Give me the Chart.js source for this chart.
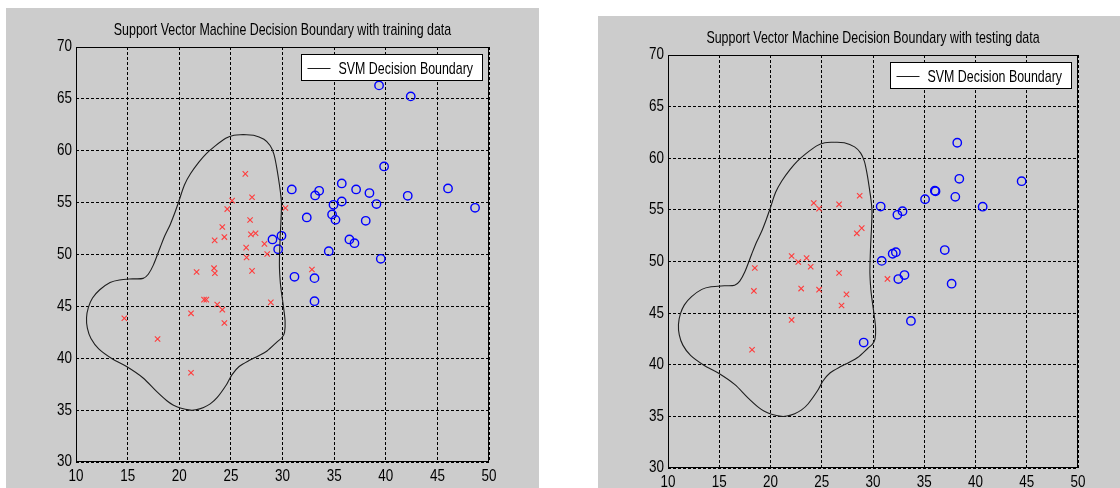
<!DOCTYPE html>
<html>
<head>
<meta charset="utf-8">
<title>SVM Decision Boundary</title>
<script src="https://cdn.jsdelivr.net/npm/chart.js@4/dist/chart.umd.min.js"></script>
<style>
  html, body { margin: 0; padding: 0; background: #ffffff; width: 1120px; height: 488px; overflow: hidden; }
  .panel { position: absolute; background: #cccccc; }
  #p1 { left: 6px; top: 8px; width: 533px; height: 480px; }
  #p2 { left: 598px; top: 16px; width: 522px; height: 472px; }
  canvas { display: block; }
</style>
</head>
<body>
<div class="panel" id="p1"><canvas id="c1" width="533" height="480"></canvas></div>
<div class="panel" id="p2"><canvas id="c2" width="522" height="472"></canvas></div>
<script>
// ---- data ----
const titles = [
  'Support Vector Machine Decision Boundary with training data',
  'Support Vector Machine Decision Boundary with testing data'
];
const legendLabel = 'SVM Decision Boundary';

// axis ranges / tick spacing
const xRange = [10, 50];
const yRange = [30, 70];
const tickStep = 5;

// closed decision contour (x, y)
const boundaryX = [26.2, 27.2, 28.2, 28.8, 29.16, 29.4, 29.6, 29.8, 29.9, 29.85, 29.77, 29.7, 29.75, 29.84, 30.1, 30.25, 30.2, 29.95, 29.5, 28.5, 27.6, 26.9, 25.8, 25.1, 24.6, 23.66, 23.0, 22.36, 21.6, 21.07, 20.1, 19.4, 18.8, 17.8, 16.5, 14.9, 13.5, 12.2, 11.45, 11.1, 11.02, 11.2, 11.6, 12.3, 13.3, 14.2, 15.5, 16.5, 17.0, 17.5, 18.16, 18.6, 19.13, 19.6, 19.94, 20.5, 21.1, 21.9, 22.6, 23.4, 24.5, 25.3, 26.2];
const boundaryY = [61.55, 61.5, 61.1, 60.5, 59.7, 58.6, 57.4, 56.0, 54.9, 53.2, 51.6, 49.1, 47.8, 46.8, 44.9, 43.6, 42.5, 42.0, 41.6, 40.7, 40.2, 39.85, 39.2, 38.4, 37.5, 36.2, 35.6, 35.26, 35.03, 35.0, 35.2, 35.5, 35.9, 36.8, 38.1, 39.2, 39.95, 40.9, 41.9, 42.9, 43.9, 44.9, 45.8, 46.6, 47.3, 47.55, 47.65, 47.7, 48.1, 49.0, 50.7, 51.8, 52.9, 54.1, 55.06, 56.7, 57.8, 58.9, 59.7, 60.4, 61.2, 61.5, 61.55];

// training set
const trainClassAX = [14.68, 17.90, 21.14, 21.14, 21.68, 22.40, 22.62, 23.43, 23.37, 23.45, 23.68, 24.17, 24.37, 24.17, 24.37, 24.65, 25.12, 26.40, 27.05, 26.86, 26.94, 27.39, 26.48, 26.52, 27.05, 28.25, 28.52, 28.87, 30.28, 32.85];
const trainClassAY = [43.86, 41.86, 38.60, 44.33, 48.31, 45.65, 45.65, 51.36, 48.68, 48.19, 45.18, 44.68, 43.40, 52.65, 51.68, 54.38, 55.19, 57.77, 55.52, 53.33, 51.94, 52.05, 50.66, 49.71, 48.42, 51.02, 50.05, 45.39, 54.48, 48.55];
const trainClassBX = [39.35, 42.42, 39.84, 30.90, 33.16, 33.55, 35.74, 37.13, 38.42, 35.74, 34.94, 39.10, 42.13, 46.03, 48.65, 32.35, 34.80, 35.13, 38.06, 29.03, 29.90, 29.58, 34.48, 36.48, 36.97, 39.52, 31.16, 33.10, 33.10];
const trainClassBY = [66.30, 65.24, 58.49, 56.27, 55.69, 56.14, 56.85, 56.27, 55.92, 55.11, 54.79, 54.86, 55.66, 56.37, 54.50, 53.57, 53.86, 53.34, 53.25, 51.45, 51.80, 50.51, 50.32, 51.45, 51.09, 49.58, 47.85, 47.72, 45.50];

// testing set
const testClassAX = [18.20, 18.38, 18.47, 22.06, 22.06, 22.71, 23.52, 23.92, 22.99, 24.22, 24.74, 24.74, 26.69, 26.69, 27.41, 26.93, 28.70, 28.42, 28.90, 31.41];
const testClassAY = [41.45, 47.15, 49.37, 44.34, 50.53, 49.95, 50.34, 49.49, 47.38, 55.67, 55.12, 47.27, 55.54, 48.89, 46.82, 45.74, 56.37, 52.73, 53.23, 48.31];
const testClassBX = [38.22, 38.42, 44.50, 36.03, 36.10, 38.03, 35.08, 40.70, 30.75, 32.38, 32.88, 31.92, 32.23, 30.85, 37.00, 32.47, 33.07, 37.67, 33.70, 29.09];
const testClassBY = [61.50, 58.01, 57.78, 56.86, 56.80, 56.26, 56.03, 55.31, 55.32, 54.52, 54.87, 50.75, 50.90, 50.06, 51.11, 48.30, 48.69, 47.85, 44.24, 42.15];

// ---- drawing ----
const FONT = '"Liberation Sans", Arial, sans-serif';
// horizontal squeeze per font size, giving a narrow face
const squeezeBySize = { 16: 0.84, 17: 0.73 };

function narrowText(ctx) {
  const fill = ctx.fillText.bind(ctx);
  ctx.fillText = function (text, x, y) {
    const m = /(\d+(?:\.\d+)?)px/.exec(this.font);
    const k = m ? (squeezeBySize[Math.round(+m[1])] || 1) : 1;
    this.save();
    this.translate(x, y);
    this.scale(k, 1);
    fill(text, 0, 0);
    this.restore();
  };
  return ctx;
}

function pts(xs, ys) { return xs.map((x, i) => ({ x: x, y: ys[i] })); }

// solid frame round the plotting area plus the boxed legend in its top-right corner
const frameAndLegend = {
  id: 'frameAndLegend',
  afterDatasetsDraw(chart) {
    const { ctx, chartArea: a } = chart;
    ctx.save();
    ctx.setLineDash([]);
    ctx.strokeStyle = '#000';
    ctx.lineWidth = 1;
    ctx.strokeRect(a.left + 0.5, a.top + 0.5, a.right - a.left - 1, a.bottom - a.top - 1);

    const line = chart.data.datasets[0];
    const bw = 181, bh = 26;
    const bx = Math.round(a.right - 7 - bw) + 0.5;
    const by = Math.round(a.top + 7) + 0.5;
    ctx.fillStyle = '#fff';
    ctx.fillRect(bx, by, bw, bh);
    ctx.strokeRect(bx, by, bw, bh);
    const my = Math.round(by + bh / 2) + 0.5;
    ctx.strokeStyle = line.borderColor;
    ctx.beginPath();
    ctx.moveTo(bx + 6, my);
    ctx.lineTo(bx + 29, my);
    ctx.stroke();
    ctx.fillStyle = '#000';
    ctx.font = '17px ' + FONT;
    ctx.textBaseline = 'middle';
    ctx.textAlign = 'left';
    ctx.fillText(line.label, bx + 37, my + 0.5);
    ctx.restore();
  }
};

function makeChart(id, title, ax, ay, bx, by, xAxisHeight, rightPad) {
  const ctx = narrowText(document.getElementById(id).getContext('2d'));
  return new Chart(ctx, {
    type: 'scatter',
    data: {
      datasets: [
        {
          label: legendLabel,
          data: pts(boundaryX, boundaryY),
          showLine: true,
          borderColor: '#1e1e1e',
          borderWidth: 1.1,
          pointRadius: 0,
          tension: 0.3,
          fill: false
        },
        {
          label: 'class A',
          data: pts(ax, ay),
          pointStyle: 'crossRot',
          pointRadius: 3.8,
          borderColor: '#ff3c3c',
          borderWidth: 1.1,
          backgroundColor: 'rgba(0,0,0,0)'
        },
        {
          label: 'class B',
          data: pts(bx, by),
          pointStyle: 'circle',
          pointRadius: 4.2,
          borderColor: '#0000ff',
          borderWidth: 1.4,
          backgroundColor: 'rgba(0,0,0,0)'
        }
      ]
    },
    options: {
      responsive: false,
      animation: false,
      devicePixelRatio: 1,
      events: [],
      layout: { padding: { top: 0, left: 0, right: rightPad, bottom: 0 } },
      plugins: {
        legend: { display: false },
        tooltip: { enabled: false },
        title: {
          display: true,
          text: title,
          fullSize: false,
          color: '#000',
          font: { family: FONT, size: 17, weight: 'normal' },
          padding: { top: 12, bottom: 6.6 }
        }
      },
      scales: {
        x: {
          type: 'linear',
          min: xRange[0], max: xRange[1],
          afterFit(s) { s.height = xAxisHeight; },
          ticks: { stepSize: tickStep, color: '#000', padding: 5, font: { family: FONT, size: 16 } },
          grid: { color: '#000', lineWidth: 1, drawTicks: false },
          border: { display: false, dash: [3, 2] }
        },
        y: {
          type: 'linear',
          min: yRange[0], max: yRange[1],
          afterFit(s) { s.width = 70; },
          ticks: { stepSize: tickStep, color: '#000', padding: 4, font: { family: FONT, size: 16 } },
          grid: { color: '#000', lineWidth: 1, drawTicks: false },
          border: { display: false, dash: [3, 2] }
        }
      }
    },
    plugins: [frameAndLegend]
  });
}

makeChart('c1', titles[0], trainClassAX, trainClassAY, trainClassBX, trainClassBY, 26, 50);
makeChart('c2', titles[1], testClassAX, testClassAY, testClassBX, testClassBY, 20, 42);
</script>
</body>
</html>
